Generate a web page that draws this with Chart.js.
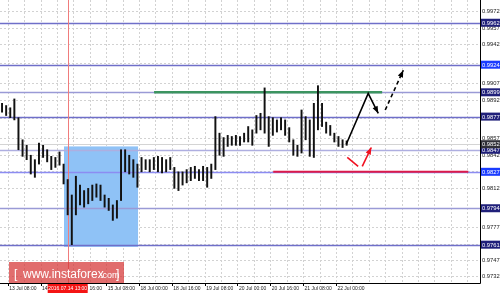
<!DOCTYPE html>
<html>
<head>
<meta charset="utf-8">
<script src="https://cdn.jsdelivr.net/npm/chart.js@4.4.1/dist/chart.umd.min.js"></script>
<style>
  html, body { margin: 0; padding: 0; background: #fff; overflow: hidden; }
  canvas { display: block; }
</style>
</head>
<body>
<canvas id="chart" width="500" height="295" style="width:500px;height:295px"></canvas>
<script>
// hourly bars (one stick every two hours)
const lows = [
  0.9881, 0.9878, 0.9876, 0.9874, 0.9847, 0.9841, 0.9838, 0.9825, 0.9822, 0.9834,
  0.9840, 0.9836, 0.9829, 0.9831, 0.9833, 0.9816, 0.9788, 0.9761, 0.9788, 0.9797,
  0.9795, 0.9798, 0.9801, 0.9804, 0.9801, 0.9795, 0.9792, 0.9783, 0.9785, 0.9801,
  0.9827, 0.9825, 0.9822, 0.9813, 0.9827, 0.9829, 0.9827, 0.9829, 0.9827, 0.9826,
  0.9827, 0.9829, 0.9812, 0.9810, 0.9815, 0.9817, 0.9819, 0.9821, 0.9819, 0.9819,
  0.9813, 0.9821, 0.9829, 0.9842, 0.9841, 0.9850, 0.9851, 0.9851, 0.9851, 0.9854,
  0.9854, 0.9851, 0.9862, 0.9865, 0.9862, 0.9850, 0.9860, 0.9863, 0.9865, 0.9860,
  0.9854, 0.9842, 0.9841, 0.9844, 0.9856, 0.9841, 0.9840, 0.9865, 0.9868, 0.9862,
  0.9860, 0.9854, 0.9850, 0.9849, 0.9851
];
const highs = [
  0.9889, 0.9887, 0.9885, 0.9893, 0.9876, 0.9856, 0.9851, 0.9842, 0.9838, 0.9853,
  0.9851, 0.9847, 0.9841, 0.9840, 0.9845, 0.9834, 0.9820, 0.9806, 0.9823, 0.9815,
  0.9810, 0.9812, 0.9815, 0.9816, 0.9815, 0.9806, 0.9803, 0.9797, 0.9801, 0.9847,
  0.9847, 0.9842, 0.9838, 0.9834, 0.9840, 0.9838, 0.9838, 0.9840, 0.9841, 0.9840,
  0.9838, 0.9840, 0.9831, 0.9827, 0.9827, 0.9829, 0.9831, 0.9832, 0.9829, 0.9832,
  0.9831, 0.9834, 0.9877, 0.9862, 0.9858, 0.9860, 0.9859, 0.9860, 0.9859, 0.9862,
  0.9868, 0.9865, 0.9878, 0.9880, 0.9903, 0.9877, 0.9876, 0.9874, 0.9876, 0.9874,
  0.9867, 0.9856, 0.9851, 0.9883, 0.9877, 0.9874, 0.9889, 0.9905, 0.9889, 0.9872,
  0.9869, 0.9862, 0.9859, 0.9856, 0.9855
];
// x is in hours counted from 13 Jul 04:00
const barHours = lows.map((_, i) => 1 + 2 * i);

const gridHours = [4, 12, 20, 28, 36, 44, 52, 60, 68, 76, 84, 92, 100, 108, 116,
  124, 132, 140, 148, 156, 164, 172, 180, 188, 196, 204, 212, 220, 228];
const labelHours = [4, 20, 36, 52, 68, 84, 100, 116, 132, 148, 164];
const timeLabels = ['13 Jul 08:00', '14 Jul 00:00', '14 Jul 16:00', '15 Jul 08:00',
  '18 Jul 00:00', '18 Jul 16:00', '19 Jul 08:00', '20 Jul 00:00', '20 Jul 16:00',
  '21 Jul 08:00', '22 Jul 00:00'];

// price axis
const priceTicks = [0.9972, 0.9957, 0.9942, 0.9925, 0.9907, 0.9892, 0.9875, 0.9857,
  0.9842, 0.9827, 0.9812, 0.9794, 0.9777, 0.9761, 0.9747, 0.9732];
const hiddenTicks = [0.9925, 0.9875, 0.9827, 0.9794, 0.9761];

// drawn objects
const levelPrices = [0.9962, 0.9924, 0.9899, 0.9877, 0.9847, 0.9827, 0.9794, 0.9761];
const levelColors = ['#6f6fc9', '#6f6fc9', '#9a9ad6', '#6f6fc9', '#aeaee0', '#8c8cf2', '#9a9ad6', '#6f6fc9'];
const boxPrices = [0.9962, 0.9924, 0.9899, 0.9877, 0.9847, 0.9852, 0.9827, 0.9794, 0.9761];
const boxColors = ['#20207a', '#1a3cff', '#20207a', '#20207a', '#20207a', '#303038', '#1a3cff', '#20207a', '#20207a'];
const lastPrice = 0.9852;
const zone = { from: 31.2, to: 67.3, top: 0.9850, bottom: 0.9759 };
const markerHour = 33;
const markerLabel = '2016.07.14 13:00';
const resistance = { from: 75.1, to: 186.3, price: 0.9899 };
const support = { from: 133.2, to: 228.3, price: 0.9827 };
const solidPath = [[168.8, 0.9852], [179.5, 0.9898], [184.4, 0.9880]];
const dashedPath = [[187.8, 0.9883], [196.6, 0.9919]];
const redPath = [[169.3, 0.9840], [174.6, 0.9832]];
const redArrow = [[176.6, 0.9832], [181.0, 0.9849]];

function arrowHead(ctx, x0, y0, x1, y1, color) {
  const ang = Math.atan2(y1 - y0, x1 - x0);
  const len = 7, half = 2.8;
  ctx.fillStyle = color;
  ctx.beginPath();
  ctx.moveTo(x1, y1);
  ctx.lineTo(x1 - len * Math.cos(ang) + half * Math.sin(ang), y1 - len * Math.sin(ang) - half * Math.cos(ang));
  ctx.lineTo(x1 - len * Math.cos(ang) - half * Math.sin(ang), y1 - len * Math.sin(ang) + half * Math.cos(ang));
  ctx.closePath();
  ctx.fill();
}

function path(ctx, x, y, pts, color, width, dash, head) {
  const p = pts.map(q => [x.getPixelForValue(q[0]), y.getPixelForValue(q[1])]);
  ctx.strokeStyle = color;
  ctx.lineWidth = width;
  ctx.setLineDash(dash);
  ctx.beginPath();
  p.forEach((q, i) => i ? ctx.lineTo(q[0], q[1]) : ctx.moveTo(q[0], q[1]));
  ctx.stroke();
  ctx.setLineDash([]);
  if (head) {
    const a = p[p.length - 2], b = p[p.length - 1];
    arrowHead(ctx, a[0], a[1], b[0], b[1], color);
  }
}

function noPad(s) {
  s.paddingTop = 0;
  s.paddingBottom = 0;
  s.paddingLeft = 0;
  s.paddingRight = 0;
}

const overlay = {
  id: 'overlay',
  beforeDatasetsDraw(chart) {
    const { ctx, chartArea: a, scales: { x, y } } = chart;
    ctx.save();
    ctx.beginPath();
    ctx.rect(a.left, a.top, a.width, a.height);
    ctx.clip();

    // blue zone
    const zx0 = x.getPixelForValue(zone.from), zx1 = x.getPixelForValue(zone.to);
    const zy0 = y.getPixelForValue(zone.top), zy1 = y.getPixelForValue(zone.bottom);
    ctx.fillStyle = '#8fc2f6';
    ctx.fillRect(zx0, zy0, zx1 - zx0, zy1 - zy0);

    // levels
    levelPrices.forEach((p, i) => {
      const py = Math.round(y.getPixelForValue(p)) + 0.5;
      ctx.strokeStyle = levelColors[i];
      ctx.lineWidth = 1.3;
      ctx.beginPath();
      ctx.moveTo(a.left, py);
      ctx.lineTo(a.right, py);
      ctx.stroke();
    });
    const lp = Math.round(y.getPixelForValue(lastPrice)) + 0.5;
    ctx.strokeStyle = '#d4d4d4';
    ctx.lineWidth = 1;
    ctx.beginPath();
    ctx.moveTo(a.left, lp);
    ctx.lineTo(a.right, lp);
    ctx.stroke();

    // resistance / support
    ctx.lineWidth = 2.4;
    ctx.strokeStyle = '#3c9460';
    let py = y.getPixelForValue(resistance.price);
    ctx.beginPath();
    ctx.moveTo(x.getPixelForValue(resistance.from), py);
    ctx.lineTo(x.getPixelForValue(resistance.to), py);
    ctx.stroke();
    ctx.strokeStyle = '#dc1a4a';
    ctx.lineWidth = 2;
    py = y.getPixelForValue(support.price);
    ctx.beginPath();
    ctx.moveTo(x.getPixelForValue(support.from), py);
    ctx.lineTo(x.getPixelForValue(support.to), py);
    ctx.stroke();

    // time marker
    const mx = Math.round(x.getPixelForValue(markerHour)) + 0.5;
    ctx.strokeStyle = '#f07c7c';
    ctx.lineWidth = 1;
    ctx.beginPath();
    ctx.moveTo(mx, a.top);
    ctx.lineTo(mx, a.bottom);
    ctx.stroke();
    ctx.restore();
  },
  afterDatasetsDraw(chart) {
    const { ctx, chartArea: a, scales: { x, y } } = chart;
    ctx.save();

    // forecast arrows
    path(ctx, x, y, solidPath, '#000', 1.6, [], true);
    path(ctx, x, y, dashedPath, '#000', 1.6, [4, 3], true);
    path(ctx, x, y, redPath, '#f01020', 1.6, [], false);
    path(ctx, x, y, redArrow, '#f01020', 1.6, [], true);

    // frame
    ctx.strokeStyle = '#000';
    ctx.lineWidth = 1;
    ctx.beginPath();
    ctx.moveTo(a.right + 0.5, a.top);
    ctx.lineTo(a.right + 0.5, a.bottom + 0.5);
    ctx.lineTo(a.left, a.bottom + 0.5);
    ctx.stroke();

    // price boxes on the axis
    ctx.font = '5.8px "Liberation Sans", Arial, sans-serif';
    ctx.textBaseline = 'middle';
    ctx.textAlign = 'left';
    boxPrices.forEach((p, i) => {
      const py = y.getPixelForValue(p);
      ctx.fillStyle = boxColors[i];
      ctx.fillRect(a.right + 1, py - 4, 19, 8);
      ctx.fillStyle = '#fff';
      ctx.fillText(p.toFixed(4), a.right + 2, py + 0.5);
    });

    // time marker label
    const mx = x.getPixelForValue(markerHour);
    ctx.fillStyle = '#f41414';
    ctx.fillRect(mx - 20, a.bottom + 1, 40, 9);
    ctx.fillStyle = '#fff';
    ctx.font = '5px "Liberation Sans", Arial, sans-serif';
    ctx.textAlign = 'center';
    ctx.fillText(markerLabel, mx, a.bottom + 6);

    // watermark
    ctx.fillStyle = 'rgba(214, 52, 52, 0.72)';
    ctx.fillRect(9, 262, 115, 21);
    ctx.fillStyle = '#fff';
    ctx.textAlign = 'left';
    ctx.textBaseline = 'alphabetic';
    ctx.font = '12px "Liberation Sans", Arial, sans-serif';
    ctx.fillText('[', 14, 278);
    ctx.fillText('www.instaforex', 23, 278);
    ctx.font = '9px "Liberation Sans", Arial, sans-serif';
    ctx.fillText('.com', 100, 278);
    ctx.font = '12px "Liberation Sans", Arial, sans-serif';
    ctx.fillText(']', 116, 278);
    ctx.restore();
  }
};

const bars = lows.map((l, i) => ({ x: barHours[i], y: [l, highs[i]] }));

new Chart(document.getElementById('chart'), {
  type: 'bar',
  data: {
    datasets: [{
      data: bars,
      backgroundColor: '#111',
      borderWidth: 0,
      barThickness: 1.3
    }]
  },
  options: {
    responsive: false,
    animation: false,
    devicePixelRatio: 1,
    layout: { padding: 0 },
    plugins: { legend: { display: false }, tooltip: { enabled: false } },
    scales: {
      x: {
        type: 'linear',
        min: 0,
        max: 234,
        offset: false,
        afterBuildTicks: s => { s.ticks = gridHours.map(v => ({ value: v })); },
        afterFit: s => { s.height = 12; noPad(s); },
        grid: {
          offset: false,
          color: '#d2d2d2',
          tickLength: 3,
          tickColor: c => labelHours.includes(c.tick && c.tick.value) ? '#000' : 'rgba(0,0,0,0)'
        },
        border: { display: false, dash: [2, 2] },
        ticks: {
          autoSkip: false,
          maxRotation: 0,
          align: 'start',
          labelOffset: 1,
          padding: 0,
          color: '#222',
          font: { family: '"Liberation Sans", Arial, sans-serif', size: 5 },
          callback: v => {
            const k = labelHours.indexOf(v);
            return k < 0 ? '' : timeLabels[k];
          }
        }
      },
      y: {
        type: 'linear',
        position: 'right',
        min: 0.97263,
        max: 0.99826,
        afterBuildTicks: s => { s.ticks = priceTicks.map(v => ({ value: v })); },
        afterFit: s => { s.width = 20; noPad(s); },
        grid: { color: '#d2d2d2', drawTicks: false },
        border: { display: false, dash: [2, 2] },
        ticks: {
          padding: 2,
          color: '#222',
          font: { family: '"Liberation Sans", Arial, sans-serif', size: 5.8 },
          callback: v => hiddenTicks.includes(v) ? '' : v.toFixed(4)
        }
      }
    }
  },
  plugins: [overlay]
});
</script>
</body>
</html>
